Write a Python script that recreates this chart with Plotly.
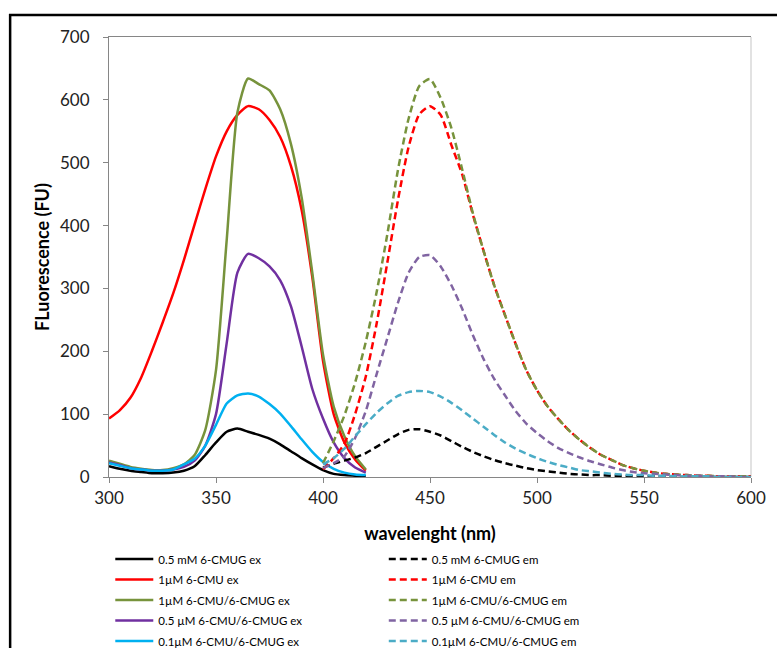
import plotly.graph_objects as go

# ---------------- data ----------------
wl_ex = [300, 305, 310, 315, 320, 325, 330, 335, 340, 345, 350, 355, 360,
         365, 370, 375, 380, 385, 390, 395, 400, 405, 410, 415, 420]
black_ex = [17, 13, 10, 8, 6, 6, 7, 10, 17, 35, 55, 72, 77,
            72, 67, 61, 52, 41, 30, 20, 11, 5, 3, 2, 1]
red_ex = [93, 106, 126, 158, 200, 245, 292, 345, 402, 458, 510, 550, 576,
          590, 585, 568, 541, 495, 425, 318, 185, 100, 55, 28, 10]
green_ex = [26, 21, 16, 13, 11, 11, 14, 20, 35, 75, 170, 377, 580,
            634, 625, 615, 585, 530, 445, 325, 195, 112, 65, 33, 12]
purple_ex = [23, 19, 14, 12, 10, 10, 12, 16, 26, 50, 100, 213, 325,
             355, 348, 335, 313, 272, 208, 140, 93, 55, 30, 15, 7]
cyan_ex = [22, 18, 14, 12, 10, 10, 12, 20, 29, 50, 83, 117, 130,
           133, 128, 116, 101, 81, 60, 40, 24, 13, 7, 4, 3]

wl_em = [400, 405, 410, 415, 420, 425, 430, 435, 440, 445, 450, 455, 460,
         465, 470, 475, 480, 485, 490, 495, 500, 505, 510, 515, 520, 525,
         530, 535, 540, 545, 550, 555, 560, 565, 570, 575, 580, 585, 590,
         595, 600]
black_em = [15, 21, 26, 31, 38, 48, 58, 68, 75, 76, 72, 66, 57,
            48, 40, 33, 27, 22, 18, 14, 11, 9, 7, 5, 4, 3,
            3, 2, 2, 1, 1, 1, 1, 0, 0, 0, 0, 0, 0,
            0, 0]
red_em = [12, 30, 53, 100, 160, 243, 340, 440, 525, 577, 590, 576, 528,
          482, 418, 360, 305, 258, 212, 170, 138, 112, 92, 74, 59, 46,
          35, 27, 19, 14, 10, 7, 5, 4, 3, 2, 2, 1, 1,
          1, 1]
green_em = [22, 57, 98, 150, 215, 293, 385, 488, 570, 622, 633, 603, 555,
            490, 420, 360, 305, 258, 212, 170, 138, 112, 92, 74, 59, 46,
            35, 27, 19, 14, 10, 7, 5, 4, 3, 2, 2, 1, 1,
            1, 1]
purple_em = [14, 22, 33, 62, 105, 163, 220, 277, 325, 350, 353, 335, 305,
             268, 226, 188, 156, 130, 105, 85, 70, 57, 46, 38, 31, 25,
             20, 15, 11, 8, 6, 5, 4, 3, 2, 2, 1, 1, 1,
             0, 0]
cyan_em = [20, 30, 45, 65, 84, 102, 117, 129, 135, 137, 135, 128, 118,
           106, 93, 80, 67, 55, 45, 37, 30, 24, 19, 15, 11, 9,
           7, 5, 4, 3, 3, 2, 2, 1, 1, 1, 1, 0, 0,
           0, 0]

ex_names = ["0.5 mM 6-CMUG ex", "1µM 6-CMU ex", "1µM 6-CMU/6-CMUG ex",
            "0.5 µM 6-CMU/6-CMUG ex", "0.1µM 6-CMU/6-CMUG ex"]
em_names = ["0.5 mM 6-CMUG em", "1µM 6-CMU em", "1µM 6-CMU/6-CMUG em",
            "0.5 µM 6-CMU/6-CMUG em", "0.1µM 6-CMU/6-CMUG em"]
ex_series = [black_ex, red_ex, green_ex, purple_ex, cyan_ex]
em_series = [black_em, red_em, green_em, purple_em, cyan_em]
ex_colors = ["#000000", "#ff0000", "#77933c", "#7030a0", "#00b0f0"]
em_colors = ["#000000", "#ff0000", "#77933c", "#8064a2", "#4bacc6"]

y_ticks = [0, 100, 200, 300, 400, 500, 600, 700]
x_ticks = [300, 350, 400, 450, 500, 550, 600]

FONT = "Lato, 'Open Sans', sans-serif"

fig = go.Figure()
for i, (name, ys, c) in enumerate(zip(ex_names, ex_series, ex_colors)):
    fig.add_trace(go.Scatter(x=wl_ex, y=ys, name=name, mode="lines",
                             line=dict(color=c, width=2.5, shape="spline", smoothing=0.6),
                             legend="legend", legendgroup="ex%d" % i))
for i, (name, ys, c) in enumerate(zip(em_names, em_series, em_colors)):
    fig.add_trace(go.Scatter(x=wl_em, y=ys, name=name, mode="lines",
                             line=dict(color=c, width=2.5, dash="7px,4px",
                                       shape="spline", smoothing=0.6),
                             legend="legend2", legendgroup="em%d" % i))

legend_common = dict(orientation="v", xanchor="left", yanchor="top",
                     font=dict(family=FONT, size=11.5, color="#000000"),
                     bgcolor="rgba(0,0,0,0)", itemwidth=38, tracegroupgap=1.5,
                     groupclick="toggleitem")

fig.update_layout(
    width=777, height=648,
    margin=dict(l=109, r=26, t=37, b=171, autoexpand=False),
    paper_bgcolor="white", plot_bgcolor="white",
    font=dict(family=FONT, color="#000000"),
    xaxis=dict(range=[300, 600], tickvals=x_ticks, showgrid=False, zeroline=False,
               showline=True, linecolor="#868686", linewidth=1, mirror=True,
               ticks="outside", ticklen=5, tickcolor="#868686", ticklabelstandoff=1,
               tickfont=dict(family=FONT, size=17, color="#222222"),
               title=dict(text="<b>wavelenght (nm)</b>", standoff=19,
                          font=dict(family=FONT, size=18, color="#000000"))),
    yaxis=dict(range=[0, 700], tickvals=y_ticks, showgrid=False, zeroline=False,
               showline=True, linecolor="#868686", linewidth=1,
               ticks="outside", ticklen=5, tickcolor="#868686", ticklabelstandoff=10,
               tickfont=dict(family=FONT, size=17, color="#222222"),
               title=dict(text="<b>FLuorescence (FU)</b>", standoff=5,
                          font=dict(family=FONT, size=18, color="#000000"))),
    legend=dict(x=0.002, y=-0.1535, **legend_common),
    legend2=dict(x=0.428, y=-0.1535, **legend_common),
    shapes=[
        dict(type="line", xref="paper", yref="paper", x0=1, x1=1, y0=0, y1=1,
             line=dict(color="#d9d9d9", width=1.5), layer="below"),
        dict(type="rect", xref="paper", yref="paper", x0=-0.154, x1=1.06,
             y0=-0.45, y1=1.05, line=dict(color="#000000", width=2.5),
             fillcolor="rgba(0,0,0,0)", layer="below"),
    ],
)

fig.write_html("out.html", config={"displayModeBar": False},
               post_script="document.body.style.margin='0';document.body.style.overflow='hidden';")
